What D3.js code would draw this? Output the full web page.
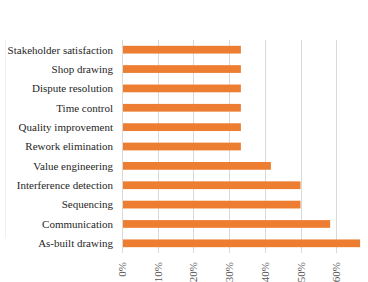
<!DOCTYPE html>
<html>
<head>
<meta charset="utf-8">
<script src="https://cdn.jsdelivr.net/npm/d3@7"></script>
<style>
  body { margin: 0; background: #fff; }
  svg { display: block; }
</style>
</head>
<body>
<div id="barChart"></div>
<script>
var categories = ["Stakeholder satisfaction", "Shop drawing", "Dispute resolution", "Time control",
  "Quality improvement", "Rework elimination", "Value engineering", "Interference detection",
  "Sequencing", "Communication", "As-built drawing"];
var values = [0.333, 0.333, 0.333, 0.333, 0.333, 0.333, 0.417, 0.5, 0.5, 0.583, 0.667];
var tickValues = [0, 0.1, 0.2, 0.3, 0.4, 0.5, 0.6];

var width = 368,
  height = 282,
  plotLeft = 122,
  plotTop = 40,
  plotBottom = 253,
  pxPerTenth = 35.7; // plot runs past the right edge, the 70% line is cropped off

var x = d3.scaleLinear().domain([0, 0.7]).range([plotLeft, plotLeft + 7 * pxPerTenth]);
var y = d3.scaleBand().domain(categories).range([plotTop, plotBottom]).paddingInner(0.6).paddingOuter(0.3);

var svg = d3.select("#barChart").append("svg").attr("width", width).attr("height", height);

// faint chart-area border on the left
svg.append("line").attr("x1", 5.5).attr("x2", 5.5).attr("y1", plotTop).attr("y2", 238)
  .attr("stroke", "#f0f0f0");

// gridlines
svg.append("g").selectAll("line").data(tickValues).enter().append("line")
  .attr("x1", function(d) { return Math.round(x(d)) + .5; })
  .attr("x2", function(d) { return Math.round(x(d)) + .5; })
  .attr("y1", plotTop).attr("y2", plotBottom)
  .attr("stroke", "#d9d9d9").attr("stroke-width", 1);

// bars
svg.append("g").selectAll("rect").data(values).enter().append("rect")
  .attr("x", x(0) + 1)
  .attr("y", function(d, i) { return y(categories[i]); })
  .attr("width", function(d) { return x(d) - x(0) - 1; })
  .attr("height", y.bandwidth())
  .attr("fill", "#ED7D31");

// category labels
svg.append("g").selectAll("text").data(categories).enter().append("text")
  .attr("x", 113)
  .attr("y", function(d) { return y(d) + y.bandwidth() / 2; })
  .attr("dy", "0.35em")
  .attr("text-anchor", "end")
  .style("font-family", "'Liberation Serif', 'Times New Roman', serif")
  .style("font-size", "11px")
  .style("fill", "#262626")
  .text(function(d) { return d; });

// x tick labels, rotated
svg.append("g").selectAll("text").data(tickValues).enter().append("text")
  .attr("transform", function(d) { return "translate(" + (x(d) + 4) + "," + 262 + ") rotate(-90)"; })
  .attr("text-anchor", "end")
  .style("font-family", "'Liberation Serif', 'Times New Roman', serif")
  .style("font-size", "11px")
  .style("fill", "#595959")
  .text(d3.format(".0%"));
</script>
</body>
</html>
